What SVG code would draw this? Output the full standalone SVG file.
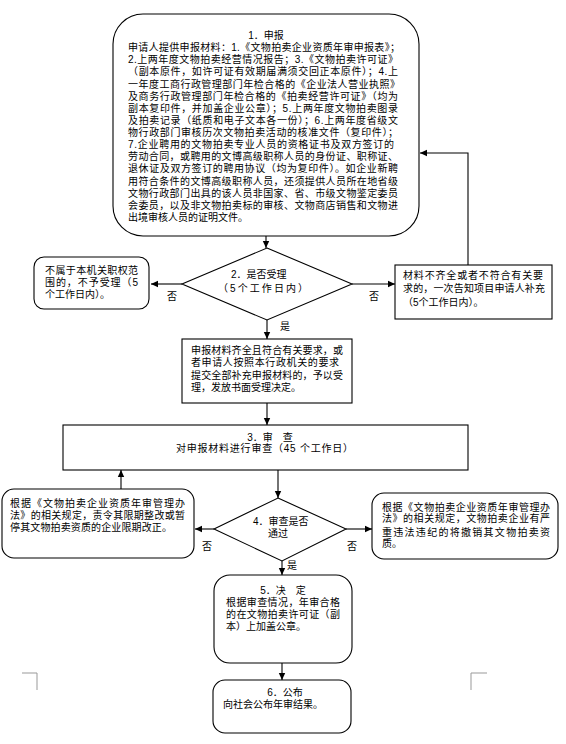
<svg xmlns="http://www.w3.org/2000/svg" width="566" height="744" viewBox="0 0 566 744">
<defs>
<marker id="ah" markerWidth="8" markerHeight="8" refX="7" refY="4" orient="auto" markerUnits="userSpaceOnUse">
<path d="M0,0.8 L7,4 L0,7.2 Z" fill="#000"/>
</marker>
<style>
.b{fill:#fff;stroke:#000;stroke-width:1.1}
.c{fill:none;stroke:#000;stroke-width:1.1}
text{font-family:"Liberation Sans","Noto Sans CJK SC",sans-serif;font-size:10px;fill:#000}
.m{text-anchor:middle}
.k{fill:none;stroke:#999;stroke-width:1}
</style>
</defs>
<rect width="566" height="744" fill="#fff"/>
<g id="corners">
<path class="k" d="M22,673 H37 V690"/>
<path class="k" d="M487,673 H471 V690"/>
</g>
<g id="connectors">
<line class="c" x1="266" y1="236" x2="266" y2="248" marker-end="url(#ah)"/>
<line class="c" x1="182" y1="284" x2="151" y2="284" marker-end="url(#ah)"/>
<line class="c" x1="352" y1="284" x2="395" y2="284" marker-end="url(#ah)"/>
<polyline class="c" points="468,265 468,153 420,153" marker-end="url(#ah)"/>
<line class="c" x1="267" y1="320" x2="267" y2="339" marker-end="url(#ah)"/>
<line class="c" x1="267" y1="403" x2="267" y2="425" marker-end="url(#ah)"/>
<line class="c" x1="278" y1="470" x2="278" y2="498" marker-end="url(#ah)"/>
<line class="c" x1="214" y1="529" x2="195" y2="529" marker-end="url(#ah)"/>
<line class="c" x1="121" y1="489" x2="121" y2="470" marker-end="url(#ah)"/>
<line class="c" x1="346" y1="529" x2="372" y2="529" marker-end="url(#ah)"/>
<line class="c" x1="282" y1="561" x2="282" y2="575" marker-end="url(#ah)"/>
<line class="c" x1="282" y1="663" x2="282" y2="680" marker-end="url(#ah)"/>
<text x="167" y="300">否</text>
<text x="369" y="300">否</text>
<text x="280" y="330">是</text>
<text x="202" y="550">否</text>
<text x="347" y="550">否</text>
<text x="287" y="569">是</text>
</g>
<g id="n1">
<rect class="b" x="113" y="14" width="306" height="222" rx="30" ry="30"/>
<text class="m" x="266" y="39">1．申报</text>
<text x="128" y="51.1" textLength="272" lengthAdjust="spacing">申请人提供申报材料：1.《文物拍卖企业资质年审申报表》；</text>
<text x="128" y="63.3" textLength="270" lengthAdjust="spacing">2.上两年度文物拍卖经营情况报告；3.《文物拍卖许可证》</text>
<text x="128" y="75.4" textLength="270" lengthAdjust="spacing">（副本原件，如许可证有效期届满须交回正本原件）；4.上</text>
<text x="128" y="87.5" textLength="272" lengthAdjust="spacing">一年度工商行政管理部门年检合格的《企业法人营业执照》</text>
<text x="128" y="99.7" textLength="270" lengthAdjust="spacing">及商务行政管理部门年检合格的《拍卖经营许可证》（均为</text>
<text x="128" y="111.8" textLength="270" lengthAdjust="spacing">副本复印件，并加盖企业公章）；5.上两年度文物拍卖图录</text>
<text x="128" y="123.9" textLength="270" lengthAdjust="spacing">及拍卖记录（纸质和电子文本各一份）；6.上两年度省级文</text>
<text x="128" y="136" textLength="270" lengthAdjust="spacing">物行政部门审核历次文物拍卖活动的核准文件（复印件）；</text>
<text x="128" y="148.2" textLength="266" lengthAdjust="spacing">7.企业聘用的文物拍卖专业人员的资格证书及双方签订的</text>
<text x="128" y="160.3" textLength="270" lengthAdjust="spacing">劳动合同，或聘用的文博高级职称人员的身份证、职称证、</text>
<text x="128" y="172.4" textLength="270" lengthAdjust="spacing">退休证及双方签订的聘用协议（均为复印件）。如企业新聘</text>
<text x="128" y="184.6" textLength="270" lengthAdjust="spacing">用符合条件的文博高级职称人员，还须提供人员所在地省级</text>
<text x="128" y="196.7" textLength="270" lengthAdjust="spacing">文物行政部门出具的该人员非国家、省、市级文物鉴定委员</text>
<text x="128" y="208.8" textLength="270" lengthAdjust="spacing">会委员，以及非文物拍卖标的审核、文物商店销售和文物进</text>
<text x="128" y="221">出境审核人员的证明文件。</text>
</g>
<g id="n2">
<polygon class="b" points="267,248 352,284 267,320 182,284"/>
<text x="231" y="278">2．是否受理</text>
<text x="218" y="292" textLength="90" lengthAdjust="spacing">（5个工作日内）</text>
</g>
<g id="n2a">
<rect class="b" x="34" y="257" width="115" height="52" rx="10" ry="10"/>
<text x="45" y="274" textLength="93" lengthAdjust="spacing">不属于本机关职权范</text>
<text x="45" y="286" textLength="93" lengthAdjust="spacing">围的，不予受理（5</text>
<text x="45" y="297.5">个工作日内）。</text>
</g>
<g id="n2b">
<rect class="b" x="395" y="265" width="157" height="54"/>
<text x="403" y="279" textLength="140" lengthAdjust="spacing">材料不齐全或者不符合有关要</text>
<text x="403" y="292" textLength="142" lengthAdjust="spacing">求的，一次告知项目申请人补充</text>
<text x="403" y="306">（5个工作日内）。</text>
</g>
<g id="n2c">
<rect class="b" x="182" y="339" width="170" height="64"/>
<text x="191" y="354" textLength="152" lengthAdjust="spacing">申报材料齐全且符合有关要求，或</text>
<text x="191" y="366" textLength="148" lengthAdjust="spacing">者申请人按照本行政机关的要求</text>
<text x="191" y="379" textLength="152" lengthAdjust="spacing">提交全部补充申报材料的，予以受</text>
<text x="191" y="391">理，发放书面受理决定。</text>
</g>
<g id="n3">
<rect class="b" x="63" y="425" width="405" height="45"/>
<text class="m" x="270" y="441">3．审　查</text>
<text x="176" y="452" textLength="177" lengthAdjust="spacing">对申报材料进行审查（45 个工作日）</text>
</g>
<g id="n4">
<polygon class="b" points="278,498 346,529 282,561 214,529"/>
<text x="253" y="525">4．审查是否</text>
<text x="268" y="537">通过</text>
</g>
<g id="n4a">
<rect class="b" x="2" y="489" width="192" height="69" rx="12" ry="12"/>
<text x="10" y="507" textLength="175" lengthAdjust="spacing">根据《文物拍卖企业资质年审管理办</text>
<text x="10" y="519" textLength="175" lengthAdjust="spacing">法》的相关规定，责令其限期整改或暂</text>
<text x="10" y="531" textLength="162" lengthAdjust="spacing">停其文物拍卖资质的企业限期改正。</text>
</g>
<g id="n4b">
<rect class="b" x="372" y="493" width="186" height="66" rx="12" ry="12"/>
<text x="382" y="511" textLength="168" lengthAdjust="spacing">根据《文物拍卖企业资质年审管理办</text>
<text x="382" y="522" textLength="168" lengthAdjust="spacing">法》的相关规定，文物拍卖企业有严</text>
<text x="382" y="536" textLength="168" lengthAdjust="spacing">重违法违纪的将撤销其文物拍卖资</text>
<text x="382" y="547">质。</text>
</g>
<g id="n5">
<rect class="b" x="214" y="575" width="138" height="88" rx="16" ry="16"/>
<text class="m" x="283" y="594">5．决　定</text>
<text x="226" y="606" textLength="114" lengthAdjust="spacing">根据审查情况，年审合格</text>
<text x="226" y="618" textLength="114" lengthAdjust="spacing">的在文物拍卖许可证（副</text>
<text x="226" y="630">本）上加盖公章。</text>
</g>
<g id="n6">
<rect class="b" x="213" y="680" width="138" height="53" rx="12" ry="12"/>
<text class="m" x="285" y="696">6．公布</text>
<text x="223" y="708">向社会公布年审结果。</text>
</g>
</svg>
